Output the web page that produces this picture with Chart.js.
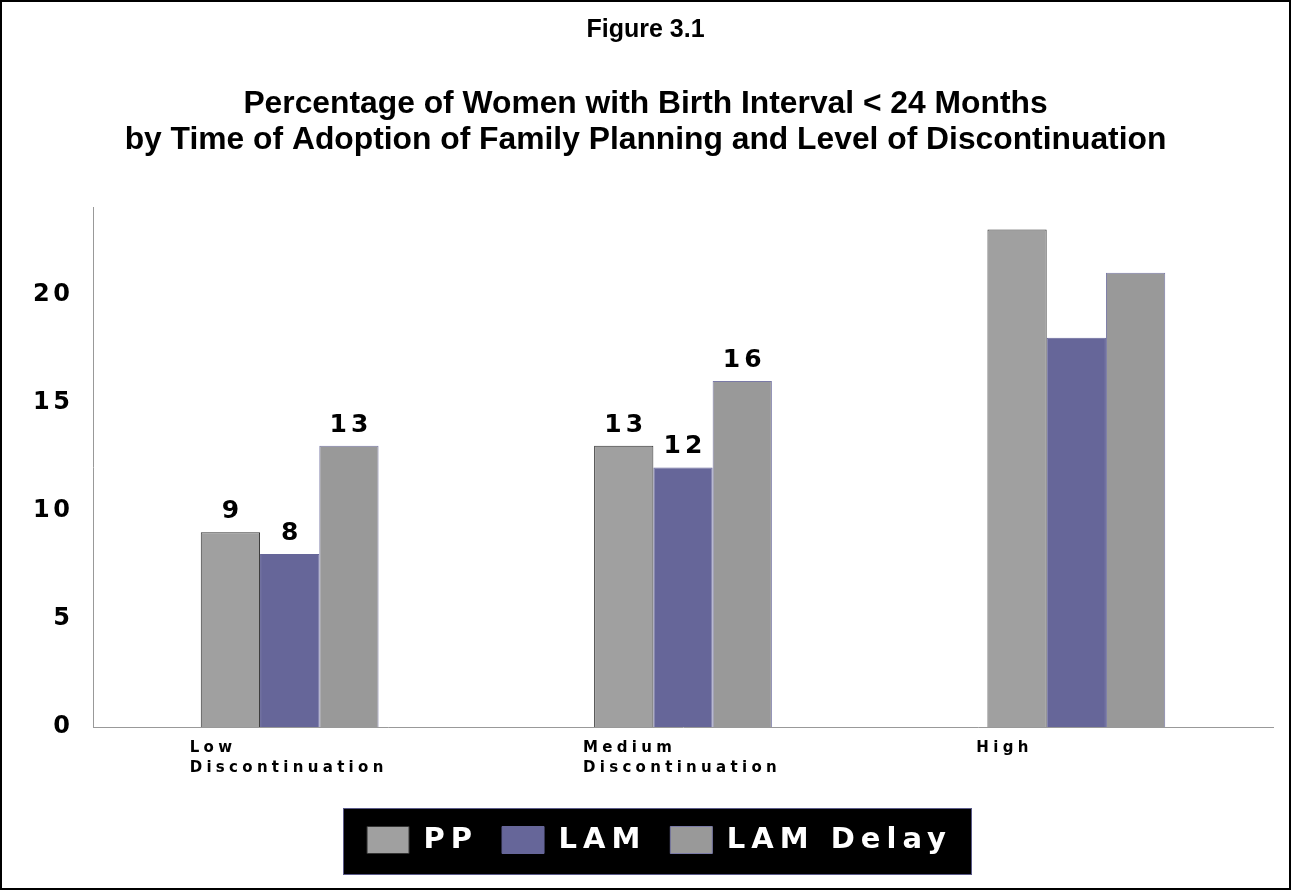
<!DOCTYPE html>
<html>
<head>
<meta charset="utf-8">
<script src="https://cdn.jsdelivr.net/npm/chart.js@4/dist/chart.umd.min.js"></script>
<style>
  html, body { margin: 0; padding: 0; background: #fff; }
  #wrap { width: 1291px; height: 890px; position: relative; }
  canvas { display: block; }
</style>
</head>
<body>
<div id="wrap"><canvas id="c" width="1291" height="890"></canvas></div>
<script>
// ---- data ----
const categories = [['Low', 'Discontinuation'], ['Medium', 'Discontinuation'], ['High']];
const seriesNames = ['PP', 'LAM', 'LAM Delay'];
const ppValues = [9, 13, 23];
const lamValues = [8, 12, 18];
const lamDelayValues = [13, 16, 21];
const showValueLabel = [true, true, false];
const yTickValues = [0, 5, 10, 15, 20];
const yMax = 24;

const FONT = "'DejaVu Sans', 'Liberation Sans', sans-serif";
const TITLE_FONT = "'Liberation Sans', Arial, sans-serif";
const LEGEND_SHIFT = 23;
const TITLE_SHIFT = 9;

function wrap(obj, method, spacing, ctx, shift) {
  if (!obj || obj['__w_' + method]) return;
  const orig = obj[method];
  obj[method] = function (...args) {
    const prev = ctx.letterSpacing;
    ctx.letterSpacing = spacing;
    if (shift) { ctx.save(); ctx.translate(shift, 0); }
    try { return orig.apply(this, args); }
    finally {
      if (shift) ctx.restore();
      ctx.letterSpacing = prev;
    }
  };
  obj['__w_' + method] = true;
}

const spacingPlugin = {
  id: 'spacing',
  beforeLayout(chart) {
    const ctx = chart.ctx;
    if (chart.scales.x) { wrap(chart.scales.x, 'fit', '4.3px', ctx); wrap(chart.scales.x, 'drawLabels', '4.3px', ctx); }
    if (chart.scales.y) { wrap(chart.scales.y, 'fit', '3.5px', ctx); wrap(chart.scales.y, 'drawLabels', '3.5px', ctx); }
    for (const box of chart.boxes) {
      if (box === chart.legend) { wrap(box, 'fit', '6px', ctx); wrap(box, 'draw', '6px', ctx, LEGEND_SHIFT); }
      else if (!box.axis) { wrap(box, 'draw', '0px', ctx, TITLE_SHIFT); }
    }
  }
};

const legendBgPlugin = {
  id: 'legendBg',
  beforeDraw(chart) {
    const lg = chart.legend;
    if (!lg || !lg.legendHitBoxes || !lg.legendHitBoxes.length) return;
    const hb = lg.legendHitBoxes;
    let minX = Infinity, maxX = -Infinity, minY = Infinity, maxY = -Infinity;
    hb.forEach(h => {
      minX = Math.min(minX, h.left); maxX = Math.max(maxX, h.left + h.width);
      minY = Math.min(minY, h.top); maxY = Math.max(maxY, h.top + h.height);
    });
    const x0 = minX - 24 + LEGEND_SHIFT, x1 = maxX + 20 + LEGEND_SHIFT;
    const y0 = minY - 17.5, y1 = maxY + 20.5;
    const ctx = chart.ctx;
    ctx.save();
    ctx.fillStyle = '#000';
    ctx.fillRect(x0, y0, x1 - x0, y1 - y0);
    ctx.strokeStyle = '#5a5a88';
    ctx.lineWidth = 1;
    ctx.strokeRect(Math.round(x0) + 0.5, Math.round(y0) + 0.5, Math.round(x1 - x0) - 1, Math.round(y1 - y0) - 1);
    ctx.restore();
  }
};

const valueLabelPlugin = {
  id: 'valueLabels',
  afterDatasetsDraw(chart) {
    const ctx = chart.ctx;
    ctx.save();
    ctx.font = 'bold 25px ' + FONT;
    ctx.letterSpacing = '4px';
    ctx.fillStyle = '#000';
    ctx.textAlign = 'center';
    ctx.textBaseline = 'alphabetic';
    chart.data.datasets.forEach((ds, di) => {
      const meta = chart.getDatasetMeta(di);
      meta.data.forEach((bar, i) => {
        if (!showValueLabel[i]) return;
        ctx.fillText(String(ds.data[i]), bar.x + 2, bar.y - 14);
      });
    });
    ctx.restore();
  }
};

const framePlugin = {
  id: 'frame',
  afterDraw(chart) {
    const ctx = chart.ctx;
    ctx.save();
    ctx.strokeStyle = '#000';
    ctx.lineWidth = 2;
    ctx.strokeRect(1, 1, chart.width - 2, chart.height - 2);
    ctx.restore();
  }
};

new Chart(document.getElementById('c'), {
  type: 'bar',
  data: {
    labels: categories,
    datasets: [
      { label: seriesNames[0], data: ppValues, backgroundColor: '#a0a0a0', borderColor: '#333333', borderWidth: 1 },
      { label: seriesNames[1], data: lamValues, backgroundColor: '#666699', borderColor: '#666699', borderWidth: 1 },
      { label: seriesNames[2], data: lamDelayValues, backgroundColor: '#999999', borderColor: '#7a7aa6', borderWidth: 1 }
    ]
  },
  options: {
    responsive: false,
    animation: false,
    devicePixelRatio: 1,
    layout: { padding: { left: 0, right: 18, top: 0, bottom: 25.5 } },
    datasets: { bar: { categoryPercentage: 0.452, barPercentage: 1.0 } },
    plugins: {
      tooltip: { enabled: false },
      title: {
        display: true,
        text: 'Figure 3.1',
        color: '#000',
        font: { family: TITLE_FONT, size: 25, weight: 'bold', lineHeight: 1.2 },
        padding: { top: 15, bottom: 41 }
      },
      subtitle: {
        display: true,
        text: ['Percentage of Women with Birth Interval < 24 Months',
               'by Time of Adoption of Family Planning and Level of Discontinuation'],
        color: '#000',
        font: { family: TITLE_FONT, size: 31.8, weight: 'bold', lineHeight: 1.132 },
        padding: { top: 0, bottom: 50 }
      },
      legend: {
        display: true,
        position: 'bottom',
        labels: {
          color: '#ffffff',
          boxWidth: 42,
          boxHeight: 27,
          padding: 24,
          font: { family: FONT, size: 29, weight: 'bold' }
        }
      }
    },
    scales: {
      x: {
        grid: { display: false, drawTicks: false },
        border: { display: true, color: '#999999', width: 1 },
        ticks: {
          color: '#000',
          align: 'start',
          labelOffset: -100,
          padding: 10.5,
          maxRotation: 0,
          autoSkip: false,
          font: { family: FONT, size: 15, weight: 'bold', lineHeight: 1.367 }
        },
        afterFit(scale) { scale.height = 74.5; }
      },
      y: {
        min: 0,
        max: yMax,
        grid: { display: false, drawTicks: false },
        border: { display: true, color: '#999999', width: 1 },
        afterBuildTicks(scale) { scale.ticks = yTickValues.map(v => ({ value: v })); },
        ticks: {
          color: '#000',
          padding: 19.5,
          font: { family: FONT, size: 24, weight: 'bold' }
        },
        afterFit(scale) { scale.width = 93; }
      }
    }
  },
  plugins: [spacingPlugin, legendBgPlugin, valueLabelPlugin, framePlugin]
});
</script>
</body>
</html>
